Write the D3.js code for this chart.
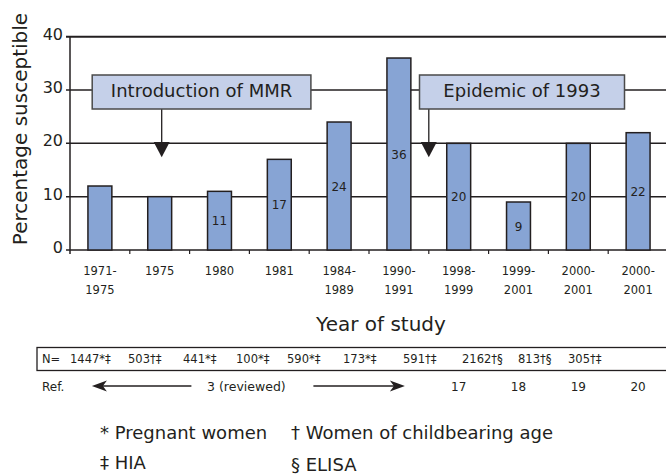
<!DOCTYPE html>
<html><head><meta charset="utf-8">
<script src="https://cdn.jsdelivr.net/npm/d3@7"></script>
<style>
body{margin:0;background:#fff}
svg{display:block}
text{font-family:"DejaVu Sans",sans-serif;fill:#231f20}
</style>
</head><body>
<svg id="chart" width="666" height="476"></svg>
<script>
// ---------- data ----------
const categoryLabels = ["1971-\n1975","1975","1980","1981","1984-\n1989","1990-\n1991","1998-\n1999","1999-\n2001","2000-\n2001","2000-\n2001"];
const values = [12,10,11,17,24,36,20,9,20,22];
const showValue = [false,false,true,true,true,true,true,true,true,true];
const yTicks = [0,10,20,30,40];
const sampleSizes = ["1447*‡","503†‡","441*‡","100*‡","590*‡","173*‡","591†‡","2162†§","813†§","305†‡"];
const reviewedRef = "3 (reviewed)";
const singleRefs = ["17","18","19","20"];
const legendItems = ["* Pregnant women","† Women of childbearing age","‡ HIA","§ ELISA"];
const yTitle = "Percentage susceptible";
const xTitle = "Year of study";

// ---------- layout ----------
const W = 666, H = 476;
const svg = d3.select("#chart");
const x = d3.scaleBand().domain(d3.range(categoryLabels.length)).range([70,668]).paddingInner(0.6).paddingOuter(0.3);
const y = d3.scaleLinear().domain([0,40]).range([250,36.7]);
const bw = x.bandwidth();
const gap = x.step() - bw;
const ink = "#231f20";

// grid lines
svg.append("g").selectAll("line").data(yTicks).join("line")
  .attr("x1",66).attr("x2",W).attr("y1",d=>y(d)).attr("y2",d=>y(d))
  .attr("stroke",ink).attr("stroke-width",d=>d===40?2:1.5);

// left axis
svg.append("line").attr("x1",70).attr("x2",70).attr("y1",y(40)).attr("y2",y(0)+4)
  .attr("stroke",ink).attr("stroke-width",1.5);

// x ticks at band boundaries
svg.append("g").selectAll("line").data(d3.range(1,categoryLabels.length)).join("line")
  .attr("x1",i=>x(i)-gap/2).attr("x2",i=>x(i)-gap/2)
  .attr("y1",y(0)).attr("y2",y(0)+4).attr("stroke",ink).attr("stroke-width",1.2);

// y tick labels
svg.append("g").selectAll("text").data(yTicks).join("text")
  .attr("x",63).attr("y",d=>y(d)+3).attr("text-anchor","end")
  .attr("font-size",16).text(d=>d);

// bars
svg.append("g").selectAll("rect").data(values).join("rect")
  .attr("x",(d,i)=>x(i)).attr("y",d=>y(d)).attr("width",bw).attr("height",d=>y(0)-y(d))
  .attr("fill","#87a4d4").attr("stroke",ink).attr("stroke-width",1.5);

// value labels
svg.append("g").selectAll("text").data(values.map((v,i)=>({v,i})).filter(d=>showValue[d.i])).join("text")
  .attr("x",d=>x(d.i)+bw/2).attr("y",d=>(y(d.v)+y(0))/2+4.5)
  .attr("text-anchor","middle").attr("font-size",12).text(d=>d.v);

// x labels
const xl = svg.append("g").selectAll("text").data(categoryLabels).join("text")
  .attr("text-anchor","middle").attr("font-size",11.5);
xl.each(function(d,i){
  const parts = d.split("\n");
  d3.select(this).selectAll("tspan").data(parts).join("tspan")
    .attr("x",x(i)+bw/2).attr("y",(p,j)=>275+j*19).text(p=>p);
});

// axis titles
svg.append("text").attr("transform","translate(26.7,129) rotate(-90)")
  .attr("text-anchor","middle").attr("font-size",20).text(yTitle);
svg.append("text").attr("x",381).attr("y",331).attr("text-anchor","middle")
  .attr("font-size",20).text(xTitle);

// annotations
const annotations = [
  {label:"Introduction of MMR", ax: x(1)+bw/2+2, left:-69.5, width:218.7},
  {label:"Epidemic of 1993", ax: x(6)-gap/2, left:-9.3, width:205}
];
const boxTop = 75, boxH = 34, triTop = 142, triTip = 157.3, triHalf = 8;
annotations.forEach(a=>{
  const g = svg.append("g");
  g.append("line").attr("x1",a.ax).attr("x2",a.ax).attr("y1",boxTop+boxH).attr("y2",triTop+1)
    .attr("stroke",ink).attr("stroke-width",1.3);
  g.append("path").attr("d",`M${a.ax-triHalf},${triTop}L${a.ax+triHalf},${triTop}L${a.ax},${triTip}Z`).attr("fill",ink);
  g.append("rect").attr("x",a.ax+a.left).attr("y",boxTop).attr("width",a.width).attr("height",boxH)
    .attr("fill","#c5d0e9").attr("stroke","#4a4a4a").attr("stroke-width",1.5);
  g.append("text").attr("x",a.ax+a.left+a.width/2).attr("y",boxTop+22).attr("text-anchor","middle")
    .attr("font-size",18).text(a.label);
});

// N row
const nRowX = [70,128,183,236,287,343,403,462,518,568];
svg.append("rect").attr("x",37).attr("y",347.5).attr("width",640).attr("height",23)
  .attr("fill","none").attr("stroke",ink).attr("stroke-width",1.3);
svg.append("text").attr("x",42).attr("y",363).attr("font-size",11.5).text("N=");
svg.append("g").selectAll("text").data(sampleSizes).join("text")
  .attr("x",(d,i)=>nRowX[i]).attr("y",363).attr("font-size",11.5).text(d=>d);

// Ref row
const refY = 390.5, arrowY = 386;
svg.append("text").attr("x",42).attr("y",refY).attr("font-size",12).text("Ref.");
const leftTip = x(0)+bw/2-8, rightTip = x(5)+bw/2+6;
const mid = (x(0)+x(5)+bw)/2;
svg.append("text").attr("x",mid-3).attr("y",refY).attr("text-anchor","middle").attr("font-size",12.5).text(reviewedRef);
svg.append("line").attr("x1",leftTip+8).attr("x2",mid-58).attr("y1",arrowY).attr("y2",arrowY).attr("stroke",ink).attr("stroke-width",1.3);
svg.append("line").attr("x1",mid+64).attr("x2",rightTip-8).attr("y1",arrowY).attr("y2",arrowY).attr("stroke",ink).attr("stroke-width",1.3);
svg.append("path").attr("d",`M${leftTip},${arrowY}L${leftTip+15},${arrowY-5.5}L${leftTip+11},${arrowY}L${leftTip+15},${arrowY+5.5}Z`).attr("fill",ink);
svg.append("path").attr("d",`M${rightTip},${arrowY}L${rightTip-15},${arrowY-5.5}L${rightTip-11},${arrowY}L${rightTip-15},${arrowY+5.5}Z`).attr("fill",ink);
svg.append("g").selectAll("text").data(singleRefs).join("text")
  .attr("x",(d,i)=>x(6+i)+bw/2).attr("y",refY).attr("text-anchor","middle").attr("font-size",12).text(d=>d);

// legend
const legendPos = [[100,439],[291,439],[100,469],[291,471]];
svg.append("g").selectAll("text").data(legendItems).join("text")
  .attr("x",(d,i)=>legendPos[i][0]).attr("y",(d,i)=>legendPos[i][1]).attr("font-size",18).text(d=>d);
</script>
</body></html>
